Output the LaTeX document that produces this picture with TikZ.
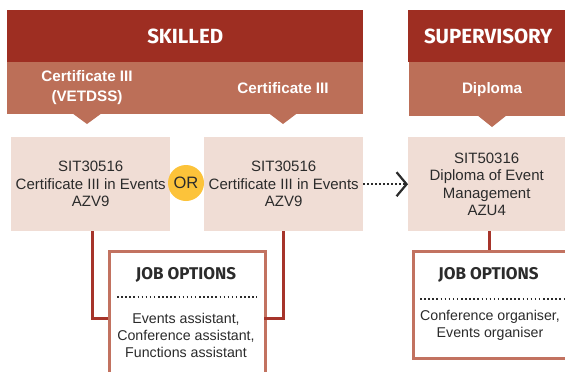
\documentclass[tikz,border=0pt]{standalone}
\usepackage{fontspec}
\setmainfont{Liberation Sans}
\newfontfamily\headfont{Fira Sans}
\usetikzlibrary{arrows.meta}
\definecolor{darkred}{HTML}{9E2E22}
\definecolor{band}{HTML}{BC6F58}
\definecolor{boxfill}{HTML}{F0DDD5}
\definecolor{jobedge}{HTML}{C27260}
\definecolor{orfill}{HTML}{FCC33A}
\definecolor{linered}{HTML}{A6342A}
\definecolor{txt}{HTML}{2B2B2B}
\begin{document}
\begin{tikzpicture}[x=1pt,y=-1pt,
  topband/.style={fill=darkred, anchor=north west, minimum height=52pt, inner sep=0pt,
    text=white, font=\headfont\bfseries\fontsize{20.5}{24}\selectfont},
  lowband/.style={fill=band, anchor=north west, inner sep=0pt},
  bandtext/.style={text=white, align=center, inner sep=0pt,
    font=\bfseries\fontsize{15.2}{20}\selectfont},
  pointer/.style={fill=band},
  certbox/.style={fill=boxfill, anchor=north west, minimum height=94pt, inner sep=0pt,
    text=txt, align=center, font=\fontsize{15}{17.5}\selectfont},
  jobbox/.style={draw=jobedge, line width=2.5pt, anchor=north west, inner sep=0pt},
  jobtitle/.style={text=txt, inner sep=0pt, font=\headfont\bfseries\fontsize{17}{20}\selectfont},
  jobtext/.style={text=txt, align=center, inner sep=0pt, font=\fontsize{14.2}{17}\selectfont},
  dotsep/.style={draw=txt, line width=1.5pt, dash pattern=on 1.5pt off 2.6pt},
  conn/.style={draw=linered, line width=3pt},
  orcircle/.style={circle, fill=orfill, minimum size=36pt, inner sep=0pt, text=txt,
    font=\fontsize{16.5}{19}\selectfont}
]
\clip (0,0) rectangle (565,372);
\fill[white] (0,0) rectangle (565,372);

% header bands
\node[topband, minimum width=356pt] (skilled) at (7,10) {SKILLED};
\node[topband, minimum width=160pt] (super) at (408,10) {SUPERVISORY};
\node[lowband, minimum width=356pt, minimum height=52pt] (skband) at (7,62) {};
\node[lowband, minimum width=160pt, minimum height=54pt] (suband) at (409,62) {};
\node[bandtext] (lbl1) at (87,88) {Certificate III\\(VETDSS)};
\node[bandtext] (lbl2) at (283,88) {Certificate III};
\node[bandtext] (lbl3) at (492,90) {Diploma};
\fill[pointer] (72,113) -- (102,113) -- (87,124) -- cycle;
\fill[pointer] (268.5,113) -- (297.5,113) -- (283,124) -- cycle;
\fill[pointer] (477,115) -- (507,115) -- (492,127) -- cycle;

% qualification boxes
\node[certbox, minimum width=159pt] (cert1) at (11,137) {SIT30516\\Certificate III in Events\\AZV9};
\node[certbox, minimum width=159pt] (cert2) at (204,137) {SIT30516\\Certificate III in Events\\AZV9};
\node[certbox, minimum width=157pt] (cert3) at (408,137) {SIT50316\\Diploma of Event\\Management\\AZU4};
\node[orcircle] (or) at (186,183) {OR};

% dotted arrow
\draw[line width=1.6pt, dash pattern=on 1.6pt off 2.4pt, draw=txt,
  -{Straight Barb[length=10pt,width=24pt,line width=2.2pt]}]
  (cert2.east) -- (cert3.west);

% job boxes
\node[jobbox, minimum width=156pt, minimum height=140pt] (job1) at (108,250) {};
\node[jobbox, minimum width=170pt, minimum height=107pt] (job2) at (412,250) {};
\node[jobtitle] (jt1) at (186,275) {JOB OPTIONS};
\node[jobtitle] (jt2) at (488.5,275) {JOB OPTIONS};
\coordinate (d1a) at (117,297);
\coordinate (d1b) at (257,297);
\coordinate (d2a) at (420,299);
\coordinate (d2b) at (566,299);
\draw[dotsep] (d1a) -- (d1b);
\draw[dotsep] (d2a) -- (d2b);
\node[jobtext] (jl1) at (186,335) {Events assistant,\\Conference assistant,\\Functions assistant};
\node[jobtext] (jl2) at (490,325) {Conference organiser,\\Events organiser};

% connectors
\coordinate (j1in) at (108,318);
\coordinate (j1out) at (264,318);
\draw[conn] ([xshift=1.5pt]cert1.south) |- (j1in);
\draw[conn] (cert2.south) |- (j1out);
\draw[conn] (cert3.south -| 489,0) -- (job2.north -| 489,0);
\end{tikzpicture}
\end{document}
